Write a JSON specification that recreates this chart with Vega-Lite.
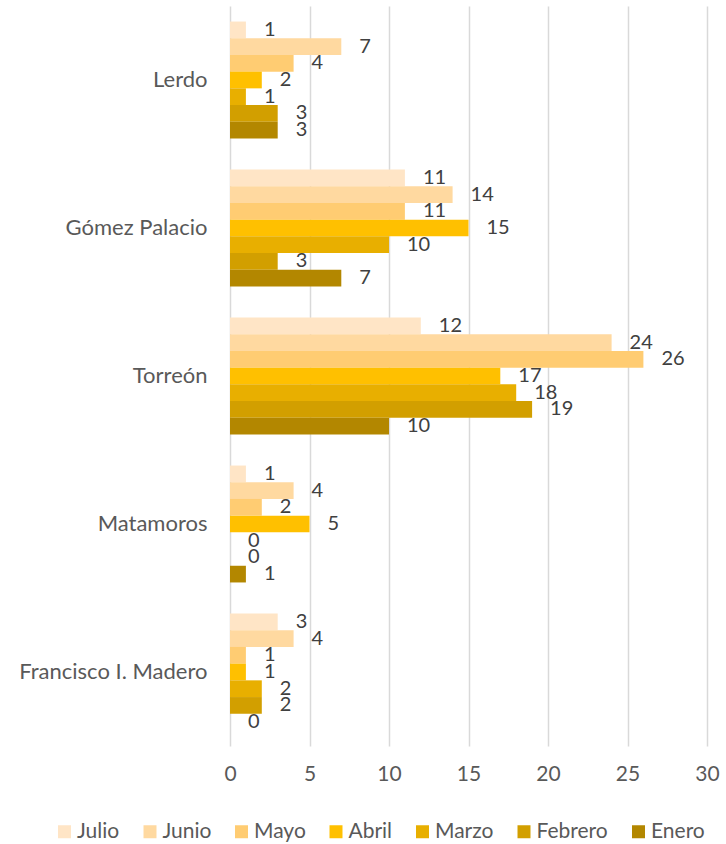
{
  "$schema": "https://vega.github.io/schema/vega-lite/v6.json",
  "width": 477,
  "height": 740,
  "autosize": {"type": "none"},
  "padding": {"left": 230, "top": 6, "right": 19, "bottom": 98},
  "background": "white",
  "config": {
    "view": {"stroke": null},
    "font": "Lato",
    "axis": {"labelFont": "Lato", "labelColor": "#595959"},
    "legend": {"labelFont": "Lato", "labelColor": "#595959"}
  },
  "data": {
    "values": [
      {"municipio": "Lerdo", "mes": "Julio", "valor": 1},
      {"municipio": "Lerdo", "mes": "Junio", "valor": 7},
      {"municipio": "Lerdo", "mes": "Mayo", "valor": 4},
      {"municipio": "Lerdo", "mes": "Abril", "valor": 2},
      {"municipio": "Lerdo", "mes": "Marzo", "valor": 1},
      {"municipio": "Lerdo", "mes": "Febrero", "valor": 3},
      {"municipio": "Lerdo", "mes": "Enero", "valor": 3},
      {"municipio": "Gómez Palacio", "mes": "Julio", "valor": 11},
      {"municipio": "Gómez Palacio", "mes": "Junio", "valor": 14},
      {"municipio": "Gómez Palacio", "mes": "Mayo", "valor": 11},
      {"municipio": "Gómez Palacio", "mes": "Abril", "valor": 15},
      {"municipio": "Gómez Palacio", "mes": "Marzo", "valor": 10},
      {"municipio": "Gómez Palacio", "mes": "Febrero", "valor": 3},
      {"municipio": "Gómez Palacio", "mes": "Enero", "valor": 7},
      {"municipio": "Torreón", "mes": "Julio", "valor": 12},
      {"municipio": "Torreón", "mes": "Junio", "valor": 24},
      {"municipio": "Torreón", "mes": "Mayo", "valor": 26},
      {"municipio": "Torreón", "mes": "Abril", "valor": 17},
      {"municipio": "Torreón", "mes": "Marzo", "valor": 18},
      {"municipio": "Torreón", "mes": "Febrero", "valor": 19},
      {"municipio": "Torreón", "mes": "Enero", "valor": 10},
      {"municipio": "Matamoros", "mes": "Julio", "valor": 1},
      {"municipio": "Matamoros", "mes": "Junio", "valor": 4},
      {"municipio": "Matamoros", "mes": "Mayo", "valor": 2},
      {"municipio": "Matamoros", "mes": "Abril", "valor": 5},
      {"municipio": "Matamoros", "mes": "Marzo", "valor": 0},
      {"municipio": "Matamoros", "mes": "Febrero", "valor": 0},
      {"municipio": "Matamoros", "mes": "Enero", "valor": 1},
      {"municipio": "Francisco I. Madero", "mes": "Julio", "valor": 3},
      {"municipio": "Francisco I. Madero", "mes": "Junio", "valor": 4},
      {"municipio": "Francisco I. Madero", "mes": "Mayo", "valor": 1},
      {"municipio": "Francisco I. Madero", "mes": "Abril", "valor": 1},
      {"municipio": "Francisco I. Madero", "mes": "Marzo", "valor": 2},
      {"municipio": "Francisco I. Madero", "mes": "Febrero", "valor": 2},
      {"municipio": "Francisco I. Madero", "mes": "Enero", "valor": 0}
    ]
  },
  "encoding": {
    "y": {
      "field": "municipio",
      "type": "nominal",
      "sort": ["Lerdo", "Gómez Palacio", "Torreón", "Matamoros", "Francisco I. Madero"],
      "scale": {"paddingInner": 0.21, "paddingOuter": 0.105},
      "axis": {
        "title": null,
        "domain": false,
        "ticks": false,
        "labelFontSize": 22,
        "labelPadding": 23,
        "labelLimit": 300,
        "labelColor": "#595959"
      }
    },
    "yOffset": {
      "field": "mes",
      "type": "nominal",
      "sort": ["Julio", "Junio", "Mayo", "Abril", "Marzo", "Febrero", "Enero"],
      "scale": {"paddingInner": 0, "paddingOuter": 0}
    },
    "x": {
      "field": "valor",
      "type": "quantitative",
      "scale": {"domain": [0, 30], "nice": false},
      "axis": {
        "title": null,
        "values": [0, 5, 10, 15, 20, 25, 30],
        "domain": false,
        "ticks": false,
        "grid": true,
        "gridColor": "#D9D9D9",
        "gridWidth": 1.5,
        "labelFontSize": 21,
        "labelPadding": 17,
        "labelFlush": false,
        "labelColor": "#595959"
      }
    }
  },
  "layer": [
    {
      "mark": {"type": "bar"},
      "encoding": {
        "color": {
          "field": "mes",
          "type": "nominal",
          "scale": {
            "domain": ["Julio", "Junio", "Mayo", "Abril", "Marzo", "Febrero", "Enero"],
            "range": ["#FFE5C6", "#FFD9A0", "#FFCC72", "#FFC000", "#E8AF00", "#D29F00", "#B38700"]
          },
          "legend": {
            "title": null,
            "orient": "none",
            "legendX": -176,
            "legendY": 815,
            "direction": "horizontal",
            "padding": 0,
            "symbolType": "square",
            "symbolSize": 169,
            "symbolStrokeWidth": 0,
            "labelFontSize": 21,
            "labelOffset": 2,
            "columnPadding": 19.5
          }
        }
      }
    },
    {
      "mark": {"type": "text", "align": "left", "baseline": "middle", "dx": 18, "fontSize": 20, "color": "#404040"},
      "encoding": {
        "text": {"field": "valor", "type": "quantitative"}
      }
    }
  ]
}
